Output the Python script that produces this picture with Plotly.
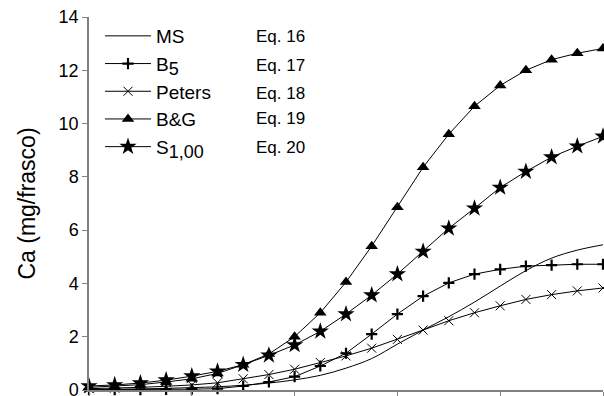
import plotly.graph_objects as go

x_vals = list(range(21))
ms = [0.02, 0.03, 0.04, 0.06, 0.09, 0.12, 0.18, 0.26, 0.38, 0.55, 0.82, 1.18, 1.72, 2.25, 2.75, 3.3, 3.9, 4.48, 4.95, 5.25, 5.45]
b5 = [0.01, 0.01, 0.01, 0.02, 0.03, 0.05, 0.15, 0.3, 0.5, 0.9, 1.38, 2.1, 2.85, 3.52, 4.02, 4.35, 4.53, 4.65, 4.69, 4.72, 4.72]
peters = [0.05, 0.07, 0.1, 0.14, 0.19, 0.27, 0.42, 0.58, 0.78, 1.03, 1.28, 1.57, 1.9, 2.25, 2.6, 2.9, 3.16, 3.4, 3.58, 3.72, 3.83]
bg = [0.1, 0.14, 0.2, 0.3, 0.42, 0.62, 0.95, 1.35, 2.0, 2.9, 4.05, 5.4, 6.86, 8.36, 9.6, 10.65, 11.43, 12.0, 12.4, 12.64, 12.82]
s100 = [0.15, 0.19, 0.26, 0.37, 0.52, 0.7, 0.95, 1.3, 1.69, 2.2, 2.85, 3.56, 4.35, 5.2, 6.07, 6.82, 7.6, 8.2, 8.74, 9.15, 9.52]

names = ["MS", "B<sub><span style='font-size:18px'>5</span></sub>", "Peters", "B&G",
         "S<sub><span style='font-size:18px'>1,00</span></sub>"]
eqs = ["Eq. 16", "Eq. 17", "Eq. 18", "Eq. 19", "Eq. 20"]
y_ticks = [0, 2, 4, 6, 8, 10, 12, 14]

fig = go.Figure()
fig.add_trace(go.Scatter(x=x_vals, y=ms, mode="lines", name=names[0],
                         line=dict(color="black", width=1, shape="spline"), cliponaxis=False))
fig.add_trace(go.Scatter(x=x_vals, y=b5, mode="lines+markers", name=names[1],
                         line=dict(color="black", width=1),
                         marker=dict(symbol="cross-thin", size=8, color="black",
                                     line=dict(color="black", width=2.2)), cliponaxis=False))
fig.add_trace(go.Scatter(x=x_vals, y=peters, mode="lines+markers", name=names[2],
                         line=dict(color="black", width=1),
                         marker=dict(symbol="x-thin", size=9, color="black",
                                     line=dict(color="black", width=1)), cliponaxis=False))
fig.add_trace(go.Scatter(x=x_vals, y=bg, mode="lines+markers", name=names[3],
                         line=dict(color="black", width=1),
                         marker=dict(symbol="triangle-up", size=11, color="black"), cliponaxis=False))
fig.add_trace(go.Scatter(x=x_vals, y=s100, mode="lines+markers", name=names[4],
                         line=dict(color="black", width=1),
                         marker=dict(symbol="star", size=13, color="black"), cliponaxis=False))

eq_y = [36, 65, 93, 119, 147]
for t, py in zip(eqs, eq_y):
    fig.add_annotation(text=t, xref="paper", yref="paper",
                       x=(254 - 89) / 514, y=(390 - py) / 373,
                       xanchor="left", yanchor="middle", showarrow=False,
                       font=dict(family="Liberation Sans, Arial", size=17, color="black"))

fig.update_layout(
    width=604, height=396,
    margin=dict(l=89, r=1, t=17, b=6, pad=0, autoexpand=False),
    paper_bgcolor="white", plot_bgcolor="white",
    font=dict(family="Liberation Sans, Arial", size=18, color="black"),
    showlegend=True,
    legend=dict(x=(100 - 89) / 514, y=(390 - 17) / 373, xanchor="left", yanchor="top",
                bgcolor="rgba(0,0,0,0)", font=dict(size=19), itemwidth=46,
                tracegroupgap=0),
    xaxis=dict(range=[0, 20], showgrid=False, zeroline=False, showline=True,
               linecolor="#808080", linewidth=1.5, ticks="outside", ticklen=6,
               tickcolor="#808080", tickvals=[0, 4, 8, 12, 16, 20], showticklabels=False,
               automargin=False),
    yaxis=dict(range=[0, 14], showgrid=False, zeroline=False, showline=True,
               linecolor="#808080", linewidth=1.5, ticks="outside", ticklen=5,
               tickcolor="#808080", tickvals=y_ticks, automargin=False,
               ticklabeloverflow="allow",
               title=dict(text="Ca (mg/frasco)", font=dict(size=23), standoff=17),
               tickfont=dict(size=18)),
)

fig.write_html("out.html", config={"displayModeBar": False},
               post_script="document.body.style.margin='0';")
